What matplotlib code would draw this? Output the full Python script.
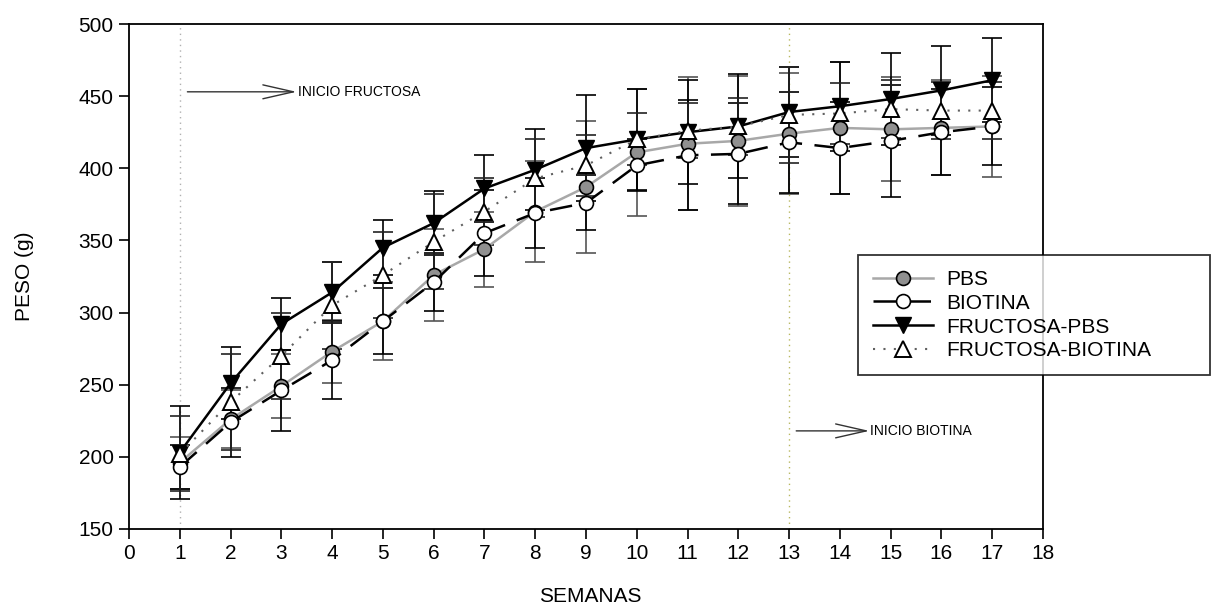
import matplotlib
matplotlib.use("Agg")
import matplotlib.pyplot as plt

plt.rcParams['font.family'] = ['Liberation Sans', 'DejaVu Sans']

weeks = list(range(1, 18))

pbs = [196, 226, 249, 273, 294, 326, 344, 370, 387, 411, 417, 419, 424, 428, 427, 428, 429]
pbs_err = [18, 20, 22, 22, 27, 32, 26, 35, 46, 44, 46, 45, 42, 46, 36, 33, 35]

biotina = [193, 224, 246, 267, 294, 321, 355, 369, 376, 402, 409, 410, 418, 414, 419, 425, 429]
biotina_err = [15, 24, 28, 27, 23, 20, 30, 24, 19, 18, 38, 35, 35, 32, 39, 30, 27]

fpbs = [203, 251, 292, 314, 345, 362, 386, 399, 414, 420, 425, 429, 439, 443, 448, 454, 461]
fpbs_err = [32, 25, 18, 21, 19, 22, 23, 28, 37, 35, 36, 36, 31, 31, 32, 31, 29]

fbio = [202, 238, 270, 305, 326, 349, 370, 393, 402, 420, 426, 429, 437, 438, 441, 440, 440]
fbio_err = [26, 33, 30, 30, 30, 33, 23, 27, 21, 18, 19, 20, 33, 21, 20, 20, 20]

xticks = list(range(0, 19))
yticks = list(range(150, 501, 50))

fig = plt.figure(figsize=(12.14, 6.08), dpi=100)
ax = fig.add_axes([129/1214, 1-529/608, (1043-129)/1214, (529-24)/608])

ax.axvline(1, color='#b0b0b0', linestyle=(0, (1, 3)), linewidth=1, zorder=1)
ax.axvline(13, color='#b8b860', linestyle=(0, (1, 3)), linewidth=1, zorder=1)

ekw = dict(capsize=7, elinewidth=1.2, capthick=1.2)
ax.errorbar(weeks, pbs, yerr=pbs_err, fmt='none', ecolor='#555555', zorder=2, **ekw)
ax.errorbar(weeks, biotina, yerr=biotina_err, fmt='none', ecolor='black', zorder=2, **ekw)
ax.errorbar(weeks, fpbs, yerr=fpbs_err, fmt='none', ecolor='black', zorder=2, **ekw)
ax.errorbar(weeks, fbio, yerr=fbio_err, fmt='none', ecolor='#222222', zorder=2, **ekw)

ax.plot(weeks, pbs, color='#a8a8a8', linewidth=1.8, marker='o', markersize=10,
        markerfacecolor='#909090', markeredgecolor='black', markeredgewidth=1.2,
        label='PBS', zorder=4)
ax.plot(weeks, biotina, color='black', linewidth=1.8, linestyle=(0, (9, 5)), marker='o',
        markersize=10, markerfacecolor='white', markeredgecolor='black', markeredgewidth=1.2,
        label='BIOTINA', zorder=4)
ax.plot(weeks, fpbs, color='black', linewidth=1.8, marker='v', markersize=11,
        markerfacecolor='black', markeredgecolor='black', label='FRUCTOSA-PBS', zorder=5)
ax.plot(weeks, fbio, color='#606060', linewidth=1.5, linestyle=(0, (1, 4)), marker='^',
        markersize=11, markerfacecolor='white', markeredgecolor='black', markeredgewidth=1.4,
        label='FRUCTOSA-BIOTINA', zorder=5)

arrow = dict(arrowstyle='->,head_length=2.2,head_width=0.5', color='#333333', lw=1,
             mutation_scale=10, shrinkA=0, shrinkB=0)
ax.annotate('', xy=(3.3, 453), xytext=(1.15, 453), arrowprops=arrow)
ax.text(3.32, 453, 'INICIO FRUCTOSA', fontsize=10, va='center', ha='left')
ax.annotate('', xy=(14.58, 218), xytext=(13.14, 218), arrowprops=arrow)
ax.text(14.6, 218, 'INICIO BIOTINA', fontsize=10, va='center', ha='left')

ax.set_xlim(0, 18)
ax.set_ylim(150, 500)
ax.set_xticks(xticks)
ax.set_yticks(yticks)
ax.tick_params(direction='out', length=7, width=1.2, labelsize=15, pad=4)
for s in ax.spines.values():
    s.set_linewidth(1.3)
ax.set_xlabel('SEMANAS', fontsize=15)
ax.set_ylabel('PESO (g)', fontsize=15)
ax.xaxis.set_label_coords((590-129)/914, (529-597)/505)
ax.yaxis.set_label_coords((24-129)/914, 0.5)
ax.xaxis.label.set_va('center')
ax.yaxis.label.set_va('center')

leg = ax.legend(loc='upper left',
                bbox_to_anchor=(858/1214, 1-379/608, 352/1214, 124/608),
                bbox_transform=fig.transFigure, mode='expand',
                fontsize=15, frameon=True, fancybox=False, edgecolor='black',
                borderpad=0.72, labelspacing=0.23, handlelength=2.9, borderaxespad=0,
                handletextpad=0.6)
leg.get_frame().set_linewidth(1.3)
leg.set_zorder(10)

fig.savefig('out.png', dpi=100)
